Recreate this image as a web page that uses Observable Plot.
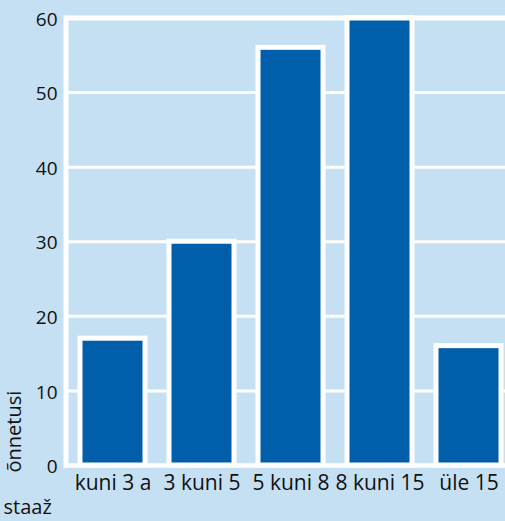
<!DOCTYPE html>
<html>
<head>
<meta charset="utf-8">
<script src="https://cdn.jsdelivr.net/npm/d3@7"></script>
<script src="https://cdn.jsdelivr.net/npm/@observablehq/plot@0.6"></script>
<style>
  html, body { margin: 0; padding: 0; background: #c5e0f3; }
  #chart { width: 505px; height: 521px; overflow: hidden; }
  svg { overflow: visible; }
</style>
</head>
<body>
<div id="chart"></div>
<script>
const categories = ["kuni 3 a", "3 kuni 5", "5 kuni 8", "8 kuni 15", "üle 15"];
const values = [17, 30, 56, 60, 16];
const yTicks = [0, 10, 20, 30, 40, 50, 60];
const xLabel = "staaž";
const yLabel = "õnnetusi";

const data = categories.map((c, i) => ({cat: c, val: values[i]}));
const font = "'Open Sans', sans-serif";

const chart = Plot.plot({
  width: 505,
  height: 521,
  marginLeft: 65.5,
  marginRight: 0,
  marginTop: 17.5,
  marginBottom: 56,
  style: {background: "#c5e0f3", fontFamily: font, color: "#111", overflow: "visible"},
  x: {domain: categories, range: [65.5, 515], paddingInner: 0.2745, paddingOuter: 0.145, label: null},
  y: {domain: [0, 60], label: null},
  marks: [
    Plot.gridY(yTicks, {stroke: "white", strokeOpacity: 1, strokeWidth: 3}),
    Plot.barY(data, {x: "cat", y: "val", fill: "#005eaa", stroke: "white", strokeWidth: 5}),
    Plot.ruleY([60], {stroke: "white", strokeWidth: 5}),
    Plot.ruleY([0], {stroke: "white", strokeWidth: 4.5}),
    Plot.frame({anchor: "left", stroke: "white", strokeWidth: 5}),
    Plot.axisY(yTicks, {tickSize: 0, tickPadding: 8.5, dy: 1.5, fontSize: 19, fill: "#111", label: null}),
    Plot.axisX({tickSize: 0, tickPadding: 10, fontSize: 21, fill: "#111", label: null}),
    Plot.text([yLabel], {frameAnchor: "bottom-left", rotate: -90, textAnchor: "start", dx: -45.5, dy: 7, fontSize: 20, fill: "#111"}),
    Plot.text([xLabel], {frameAnchor: "bottom-left", textAnchor: "start", dx: -62.5, dy: 48, fontSize: 20, fill: "#111"})
  ]
});
document.getElementById("chart").appendChild(chart);
</script>
</body>
</html>
